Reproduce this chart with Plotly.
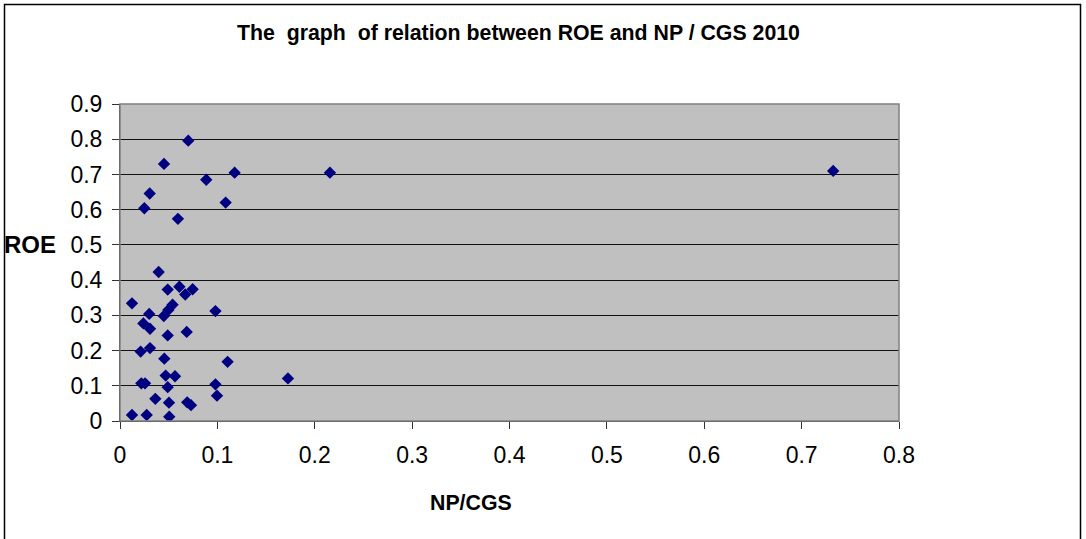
import plotly.graph_objects as go

np_cgs = [0.0701, 0.0452, 0.1177, 0.2156, 0.7324, 0.0886, 0.0305, 0.1085, 0.0250, 0.0595,
          0.0397, 0.0610, 0.0746, 0.0490, 0.0670, 0.0123, 0.0540, 0.0496, 0.0980, 0.0300,
          0.0450, 0.0240, 0.0308, 0.0685, 0.0490, 0.0308, 0.0212, 0.0455, 0.1105, 0.0469,
          0.0565, 0.1725, 0.0219, 0.0257, 0.0980, 0.0490, 0.0996, 0.0363, 0.0690, 0.0503,
          0.0729, 0.0123, 0.0274, 0.0506]
roe = [0.796, 0.730, 0.705, 0.705, 0.710, 0.685, 0.646, 0.620, 0.604, 0.574,
       0.423, 0.381, 0.374, 0.373, 0.359, 0.334, 0.330, 0.315, 0.312, 0.304,
       0.298, 0.277, 0.262, 0.253, 0.243, 0.207, 0.197, 0.177, 0.168, 0.129,
       0.127, 0.121, 0.107, 0.107, 0.104, 0.096, 0.072, 0.063, 0.053, 0.052,
       0.045, 0.017, 0.017, 0.012]

x_ticks = [0, 0.1, 0.2, 0.3, 0.4, 0.5, 0.6, 0.7, 0.8]
y_ticks = [0, 0.1, 0.2, 0.3, 0.4, 0.5, 0.6, 0.7, 0.8, 0.9]

title_text = "The  graph  of relation between ROE and NP / CGS 2010"
FONT = "Arial, Liberation Sans, sans-serif"

fig = go.Figure()
fig.add_trace(go.Scatter(
    x=np_cgs, y=roe, mode="markers",
    marker=dict(symbol="diamond", size=9.5, color="#000080", line=dict(width=0)),
    showlegend=False, hoverinfo="x+y",
))

L, T, W, H = 120, 104, 779, 317
def px(xp):
    return (xp - L) / W
def py(yp):
    return (T + H - yp) / H

fig.update_layout(
    width=1086, height=539,
    margin=dict(l=L, r=1086 - L - W, t=T, b=539 - T - H, pad=0),
    paper_bgcolor="white", plot_bgcolor="#C0C0C0",
    font=dict(family=FONT, size=23, color="black"),
    xaxis=dict(range=[0, 0.8], tickvals=x_ticks, ticktext=[f"{v:g}" for v in x_ticks],
               showgrid=False, zeroline=False, showline=True, linecolor="#333333", linewidth=1,
               ticks="outside", ticklen=7, tickcolor="#333333", ticklabelstandoff=6,
               tickfont=dict(size=23, family=FONT, color="black"), fixedrange=True),
    yaxis=dict(range=[0, 0.9], tickvals=y_ticks, ticktext=[f"{v:g}" for v in y_ticks],
               showgrid=True, gridcolor="#111111", gridwidth=1, zeroline=False,
               showline=True, linecolor="#333333", linewidth=1,
               ticks="outside", ticklen=7, tickcolor="#333333", ticklabelstandoff=5,
               tickfont=dict(size=23, family=FONT, color="black"), fixedrange=True),
    shapes=[
        dict(type="rect", xref="paper", yref="paper", x0=0, x1=1, y0=0, y1=1,
             line=dict(color="#808080", width=1.5), fillcolor="rgba(0,0,0,0)", layer="above"),
        dict(type="rect", xref="paper", yref="paper",
             x0=px(4.5), x1=px(1080.5), y0=py(4.5), y1=py(545),
             line=dict(color="black", width=1.5), fillcolor="rgba(0,0,0,0)"),
    ],
    annotations=[
        dict(text=f"<b>{title_text}</b>", xref="paper", yref="paper", x=px(518.5), y=py(33),
             xanchor="center", yanchor="middle", showarrow=False,
             font=dict(size=21.3, family=FONT, color="black")),
        dict(text="<b>ROE</b>", xref="paper", yref="paper", x=px(30), y=py(244),
             xanchor="center", yanchor="middle", showarrow=False,
             font=dict(size=24, family=FONT, color="black")),
        dict(text="<b>NP/CGS</b>", xref="paper", yref="paper", x=px(471), y=py(503),
             xanchor="center", yanchor="middle", showarrow=False,
             font=dict(size=21.3, family=FONT, color="black")),
    ],
)

fig.write_html("out.html", config={"displayModeBar": False})
